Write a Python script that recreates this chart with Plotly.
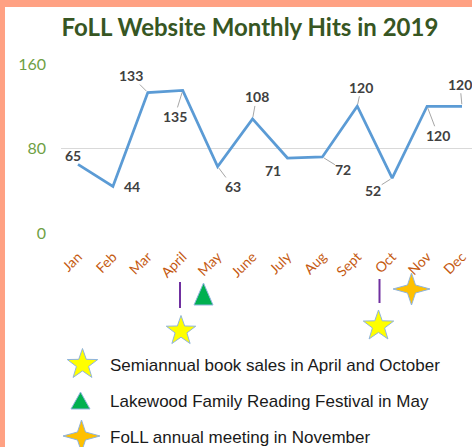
import plotly.graph_objects as go
import math

# ---------------- data ----------------
months = ["Jan", "Feb", "Mar", "April", "May", "June", "July", "Aug", "Sept", "Oct", "Nov", "Dec"]
hits = [65, 44, 133, 135, 63, 108, 71, 72, 120, 52, 120, 120]
y_ticks = [0, 80, 160]
title_text = "FoLL Website Monthly Hits in 2019"
legend_texts = [
    "Semiannual book sales in April and October",
    "Lakewood Family Reading Festival in May",
    "FoLL annual meeting in November",
]

# label offsets (px, label centre relative to point) and leader-line flags
label_dx = [-5, 19, -17, -8, 15, 4, -14, 21, 4, -19, 11, -2]
label_dy = [-9, 0, -17, 26, 20, -22, 12, 13, -19, 12, 29, -22]
label_leader = [False, False, True, True, True, True, False, True, True, True, True, True]

# ---------------- layout geometry ----------------
W, H = 472, 447
L, R, T, B = 61, 0, 64, 214
PW, PH = W - L - R, H - T - B


def px(x):
    return (x - L) / PW


def py(y):
    return (H - B - y) / PH


def path_from(points):
    s = "M " + " L ".join(f"{px(x):.5f},{py(y):.5f}" for x, y in points) + " Z"
    return s


def star5(cx, cy, r_out, ratio=0.40):
    pts = []
    for k in range(10):
        ang = -math.pi / 2 + k * math.pi / 5
        r = r_out if k % 2 == 0 else r_out * ratio
        pts.append((cx + r * math.cos(ang), cy + r * math.sin(ang)))
    return path_from(pts)


def triangle(cx, top, w, h):
    return path_from([(cx, top), (cx + w / 2, top + h), (cx - w / 2, top + h)])


def star4(cx, cy, rx, ry, inner=4.0):
    pts = [(cx, cy - ry), (cx + inner, cy - inner), (cx + rx, cy), (cx + inner, cy + inner),
           (cx, cy + ry), (cx - inner, cy + inner), (cx - rx, cy), (cx - inner, cy - inner)]
    return path_from(pts)


fig = go.Figure()
fig.add_trace(go.Scatter(
    x=months, y=hits, mode="lines",
    line=dict(color="#5b9bd5", width=2.75),
    hoverinfo="skip", showlegend=False,
))

annotations = []
for m, v, dx, dy, lead in zip(months, hits, label_dx, label_dy, label_leader):
    annotations.append(dict(
        x=m, y=v, xref="x", yref="y", text=f"<b>{v}</b>",
        showarrow=True, ax=dx, ay=dy, axref="pixel", ayref="pixel",
        arrowhead=0, arrowwidth=1, standoff=2,
        arrowcolor="#a6a6a6" if lead else "rgba(0,0,0,0)",
        font=dict(family="Lato", size=14, color="#404040"),
        borderpad=0,
    ))

# legend texts
legend_y = [365, 401, 437]
for t, yy in zip(legend_texts, legend_y):
    annotations.append(dict(
        x=px(108), y=py(yy), xref="paper", yref="paper", text=t,
        showarrow=False, xanchor="left", yanchor="middle",
        font=dict(family="Liberation Sans, Arial", size=17, color="#1a1a1a"),
    ))

shapes = []
# salmon frame (left and top)
shapes.append(dict(type="rect", xref="paper", yref="paper", x0=px(0), x1=px(5), y0=py(H), y1=py(0),
                   fillcolor="#ffa183", line=dict(width=0), layer="above"))
shapes.append(dict(type="rect", xref="paper", yref="paper", x0=px(0), x1=px(W), y0=py(7), y1=py(0),
                   fillcolor="#ffa183", line=dict(width=0), layer="above"))
# purple event ticks
for x0, y0, y1 in [(180, 282, 308), (379.5, 279, 303)]:
    shapes.append(dict(type="line", xref="paper", yref="paper", x0=px(x0), x1=px(x0), y0=py(y0), y1=py(y1),
                       line=dict(color="#7030a0", width=2)))
# yellow stars
for cx, cy, r in [(181, 331, 15.5), (378.5, 326, 16), (82.5, 364.5, 16)]:
    shapes.append(dict(type="path", xref="paper", yref="paper", path=star5(cx, cy, r),
                       fillcolor="#ffff00", line=dict(color="#8fb4de", width=1)))
# green triangles
for cx, top, w, h in [(203.5, 283, 19, 22), (80.5, 392, 19, 17)]:
    shapes.append(dict(type="path", xref="paper", yref="paper", path=triangle(cx, top, w, h),
                       fillcolor="#00b050", line=dict(color="#8fb4de", width=1)))
# orange four-point stars
for cx, cy in [(411.5, 289), (81.5, 436)]:
    shapes.append(dict(type="path", xref="paper", yref="paper", path=star4(cx, cy, 18.5, 16),
                       fillcolor="#ffc000", line=dict(color="#8fb4de", width=1)))

# x range so that Jan sits at px 78 and Dec at px 462
step = (462 - 78) / 11
x0r = -(78 - L) / step
x1r = x0r + PW / step

fig.update_layout(
    width=W, height=H,
    margin=dict(l=L, r=R, t=T, b=B, autoexpand=False),
    paper_bgcolor="white", plot_bgcolor="white",
    title=dict(text=f"<b>{title_text}</b>", x=250 / W, xanchor="center",
               y=1 - 28 / H, yanchor="middle",
               font=dict(family="Lato", size=24, color="#375623")),
    xaxis=dict(range=[x0r, x1r], showgrid=False, showline=False, zeroline=False,
               tickangle=-45, ticks="", ticklabelstandoff=12,
               tickfont=dict(family="Lato", size=14, color="#c55a11"), automargin=False),
    yaxis=dict(range=[0, 160], tickvals=y_ticks, showgrid=True, gridcolor="#d9d9d9", gridwidth=1,
               zeroline=False, showline=False, ticks="", ticklabelstandoff=14,
               tickfont=dict(family="Lato", size=16, color="#6f9f45"), automargin=False),
    annotations=annotations,
    shapes=shapes,
    showlegend=False,
)

fig.write_html("out.html", config={"displayModeBar": False},
               post_script="document.body.style.margin='0';document.body.style.overflow='hidden';")
